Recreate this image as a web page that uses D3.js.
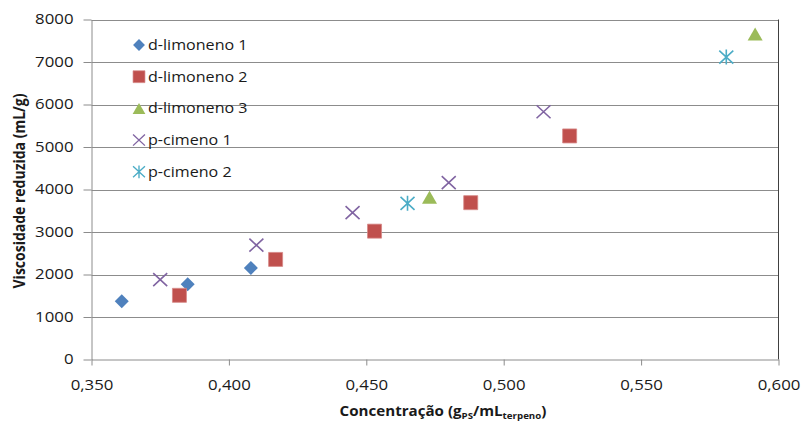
<!DOCTYPE html>
<html>
<head>
<meta charset="utf-8">
<script src="https://cdn.jsdelivr.net/npm/d3@7"></script>
<style>
  body { margin: 0; background: #fff; }
  svg { display: block; font-family: 'Open Sans', sans-serif; }
</style>
</head>
<body>
<div id="chart"></div>
<script>
// values
const xTicks = [0.35, 0.4, 0.45, 0.5, 0.55, 0.6]
const yTicks = [0, 1000, 2000, 3000, 4000, 5000, 6000, 7000, 8000]

const dLimoneno1X = [0.361, 0.385, 0.408]
const dLimoneno1Y = [1370, 1770, 2155]
const dLimoneno2X = [0.382, 0.417, 0.453, 0.488, 0.524]
const dLimoneno2Y = [1510, 2355, 3020, 3690, 5260]
const dLimoneno3X = [0.473, 0.5915]
const dLimoneno3Y = [3815, 7660]
const pCimeno1X = [0.375, 0.41, 0.445, 0.48, 0.5145]
const pCimeno1Y = [1880, 2690, 3455, 4160, 5830]
const pCimeno2X = [0.465, 0.581]
const pCimeno2Y = [3675, 7115]

const series = [
  { name: 'd-limoneno 1', xs: dLimoneno1X, ys: dLimoneno1Y, shape: 'diamond', color: '#4f81bd' },
  { name: 'd-limoneno 2', xs: dLimoneno2X, ys: dLimoneno2Y, shape: 'square', color: '#c0504d' },
  { name: 'd-limoneno 3', xs: dLimoneno3X, ys: dLimoneno3Y, shape: 'triangle', color: '#9bbb59' },
  { name: 'p-cimeno 1', xs: pCimeno1X, ys: pCimeno1Y, shape: 'cross', color: '#8064a2' },
  { name: 'p-cimeno 2', xs: pCimeno2X, ys: pCimeno2Y, shape: 'star', color: '#4bacc6' }
]

const width = 803
const height = 422
const plot = { left: 91.5, right: 778.5, top: 19.5, bottom: 359.5 }
const stretch = 1.2 // text in the source is drawn a bit wide
const comma = d3.formatLocale({ decimal: ',', thousands: '.', grouping: [3], currency: ['', ''] })

const x = d3.scaleLinear().domain([0.35, 0.6]).range([plot.left, plot.right])
const y = d3.scaleLinear().domain([0, 8000]).range([plot.bottom, plot.top])

function markerPath(shape) {
  switch (shape) {
    case 'diamond': return 'M0,-7L7,0L0,7L-7,0Z'
    case 'square': return 'M-7,-7H7V7H-7Z'
    case 'triangle': return 'M0,-6.5L7.5,6.5H-7.5Z'
    case 'cross': return 'M-7,-6.5L7,6.5M-7,6.5L7,-6.5'
    case 'star': return 'M-7,-6.5L7,6.5M-7,6.5L7,-6.5M0,-7.5V7.5'
  }
}

function drawMarker(sel, d) {
  const filled = d.shape === 'diamond' || d.shape === 'square' || d.shape === 'triangle'
  sel.append('path')
    .attr('d', markerPath(d.shape))
    .attr('fill', filled ? d.color : 'none')
    .attr('stroke', filled ? (d.shape === 'square' ? '#d58886' : 'none') : d.color)
    .attr('stroke-width', filled ? 0.8 : 1.6)
}

const svg = d3.select('#chart').append('svg')
  .attr('width', width)
  .attr('height', height)

// horizontal gridlines
svg.append('g').attr('class', 'grid')
  .selectAll('line')
  .data(yTicks.filter(d => d > 0))
  .join('line')
  .attr('x1', plot.left)
  .attr('x2', plot.right)
  .attr('y1', d => Math.round(y(d)) + 0.5)
  .attr('y2', d => Math.round(y(d)) + 0.5)
  .attr('stroke', '#8c8c8c')
  .attr('stroke-width', 1)

// right border
svg.append('line')
  .attr('x1', plot.right).attr('x2', plot.right)
  .attr('y1', plot.top).attr('y2', plot.bottom)
  .attr('stroke', '#404040')

// y axis
const axisY = d3.axisLeft(y)
  .tickValues(yTicks)
  .tickFormat(d3.format('d'))
  .tickSize(8)
  .tickSizeOuter(0)
const gy = svg.append('g')
  .attr('transform', 'translate(' + plot.left + ',0)')
  .call(axisY)
gy.select('.domain').attr('stroke', '#8c8c8c')
gy.selectAll('.tick line').attr('stroke', '#8c8c8c')
gy.selectAll('.tick text')
  .attr('x', 0)
  .attr('transform', 'translate(-18,0) scale(' + stretch + ',1)')
  .attr('font-family', "'Open Sans', sans-serif")
  .attr('font-size', 14)
  .attr('fill', '#1a1a1a')

// x axis
const axisX = d3.axisBottom(x)
  .tickValues(xTicks)
  .tickFormat(comma.format('.3f'))
  .tickSize(6)
  .tickSizeOuter(0)
const gx = svg.append('g')
  .attr('transform', 'translate(0,' + plot.bottom + ')')
  .call(axisX)
gx.select('.domain').attr('stroke', '#8c8c8c')
gx.selectAll('.tick line').attr('stroke', '#8c8c8c')
gx.selectAll('.tick text')
  .attr('y', 0)
  .attr('dy', null)
  .attr('transform', 'translate(0,30) scale(' + stretch + ',1)')
  .attr('font-family', "'Open Sans', sans-serif")
  .attr('font-size', 14)
  .attr('fill', '#1a1a1a')

// points
const groups = svg.append('g').attr('class', 'g-plot')
  .selectAll('g')
  .data(series)
  .join('g')

groups.each(function(s) {
  const pts = s.xs.map((v, i) => ({ x: v, y: s.ys[i] }))
  d3.select(this).selectAll('g')
    .data(pts)
    .join('g')
    .attr('transform', d => 'translate(' + x(d.x) + ',' + y(d.y) + ')')
    .each(function() { drawMarker(d3.select(this), s) })
})

// legend
const legend = svg.append('g')
  .attr('transform', 'translate(139,45)')
  .selectAll('g')
  .data(series)
  .join('g')
  .attr('transform', (d, i) => 'translate(0,' + (i * 31.7) + ')')

legend.each(function(s) {
  const g = d3.select(this)
  const m = g.append('g').attr('transform', 'scale(0.85)')
  drawMarker(m, s)
  g.append('text')
    .attr('transform', 'translate(9,5) scale(1.15,1)')
    .attr('font-size', 14)
    .attr('fill', '#1a1a1a')
    .text(s.name)
})

// axis titles
const xTitle = svg.append('text')
  .attr('transform', 'translate(443,416) scale(1.08,1)')
  .attr('text-anchor', 'middle')
  .attr('font-size', 14)
  .attr('font-weight', 'bold')
  .attr('fill', '#1a1a1a')
xTitle.append('tspan').text('Concentração (g')
xTitle.append('tspan').attr('font-size', 9).attr('dy', 3).text('PS')
xTitle.append('tspan').attr('dy', -3).text('/mL')
xTitle.append('tspan').attr('font-size', 9).attr('dy', 3).text('terpeno')
xTitle.append('tspan').attr('dy', -3).text(')')

svg.append('text')
  .attr('transform', 'translate(25,191) rotate(-90) scale(1,' + stretch + ')')
  .attr('text-anchor', 'middle')
  .attr('font-size', 14)
  .attr('font-weight', 'bold')
  .attr('fill', '#1a1a1a')
  .text('Viscosidade reduzida (mL/g)')
</script>
</body>
</html>
